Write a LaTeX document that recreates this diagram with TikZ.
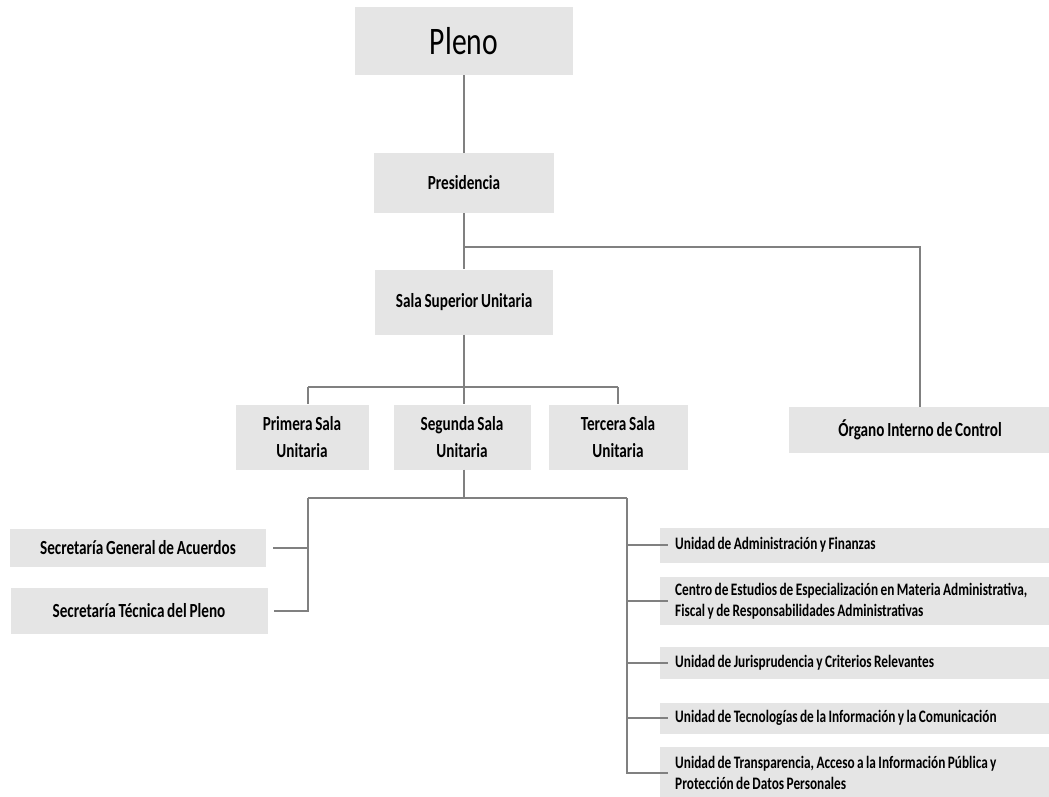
\documentclass[tikz,border=0pt]{standalone}
\usepackage{fontspec}
\setmainfont{Carlito}[FakeStretch=0.76,WordSpace=0.8]
\begin{document}
\begin{tikzpicture}[x=1pt,y=-1pt,
  box/.style={rectangle,fill=black!10,draw=none,inner sep=0pt,align=center,font=\fontsize{20}{27}\selectfont\bfseries},
  rbox/.style={rectangle,fill=black!10,draw=none,inner xsep=15pt,inner ysep=0pt,anchor=west,align=flush left,text width=372pt,minimum width=402pt,font=\fontsize{17.5}{21}\selectfont\bfseries},
  conn/.style={draw=black!50,line width=1.3pt}]
\useasboundingbox (0,0) rectangle (1049,797);
\node[box,minimum width=218pt,minimum height=68pt,font=\fontsize{39}{44}\selectfont] (pleno) at (464,41) {Pleno};
\node[box,minimum width=180pt,minimum height=60pt] (pres) at (464,183) {Presidencia};
\node[box,minimum width=178pt,minimum height=65pt] (sala) at (464,302) {Sala Superior Unitaria};
\node[box,minimum width=262pt,minimum height=46pt] (organo) at (920,430) {Órgano Interno de Control};
\node[box,minimum width=133pt,minimum height=65pt] (prim) at (302,437) {Primera Sala\\Unitaria};
\node[box,minimum width=137pt,minimum height=65pt] (seg) at (462,437) {Segunda Sala\\Unitaria};
\node[box,minimum width=139pt,minimum height=65pt] (ter) at (618,437) {Tercera Sala\\Unitaria};
\node[box,minimum width=256pt,minimum height=38pt] (sg) at (138,548) {Secretaría General de Acuerdos};
\node[box,minimum width=257pt,minimum height=46pt] (st) at (139,611) {Secretaría Técnica del Pleno};
\node[rbox,minimum height=35pt] (ua) at (660,545) {Unidad de Administración y Finanzas};
\node[rbox,minimum height=48pt] (ce) at (660,601) {Centro de Estudios de Especialización en Materia Administrativa,\\Fiscal y de Responsabilidades Administrativas};
\node[rbox,minimum height=32pt] (uj) at (660,663) {Unidad de Jurisprudencia y Criterios Relevantes};
\node[rbox,minimum height=31pt] (ut) at (660,718) {Unidad de Tecnologías de la Información y la Comunicación};
\node[rbox,minimum height=52pt] (utr) at (660,773) {Unidad de Transparencia, Acceso a la Información Pública y\\Protección de Datos Personales};
\coordinate (j1) at (464,247);
\coordinate (j2) at (464,387);
\coordinate (bl) at (308,387);
\coordinate (br) at (618,387);
\coordinate (j3) at (464,498);
\coordinate (jl) at (308,498);
\coordinate (jr) at (627,498);
\draw[conn] (pleno) -- (pres);
\draw[conn] (pres) -- (sala);
\draw[conn] (j1) -| (organo.north);
\draw[conn] (sala) -- (j2);
\draw[conn] (j2) -- (seg.north -| j2);
\draw[conn] (bl) -- (br);
\draw[conn] (bl) -- (bl |- prim.north);
\draw[conn] (br) -- (br |- ter.north);
\draw[conn] (seg.south -| j3) -- (j3);
\draw[conn] (jl) -- (jr);
\draw[conn,shorten >=6pt] (jl) |- (st.east);
\draw[conn,shorten >=7pt] (jl |- sg.east) -- (sg.east);
\draw[conn,shorten >=-8pt] (jr) |- (utr.west);
\draw[conn,shorten >=-8pt] (jr |- ua.west) -- (ua.west);
\draw[conn,shorten >=-8pt] (jr |- ce.west) -- (ce.west);
\draw[conn,shorten >=-8pt] (jr |- uj.west) -- (uj.west);
\draw[conn,shorten >=-8pt] (jr |- ut.west) -- (ut.west);
\end{tikzpicture}
\end{document}
